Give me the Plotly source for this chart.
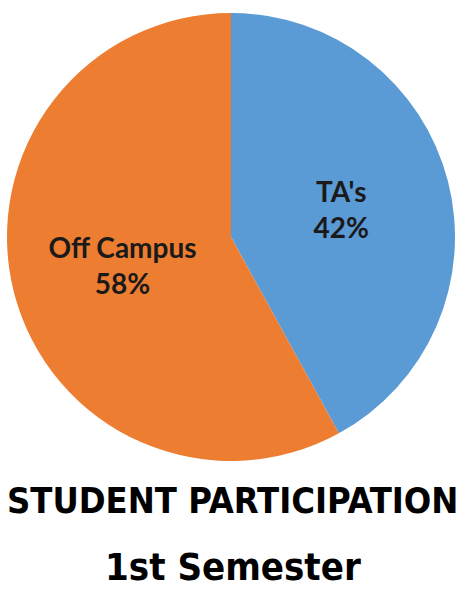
import plotly.graph_objects as go

labels = ["TA's", "Off Campus"]
values = [42, 58]
colors = ["#5B9BD5", "#ED7D31"]
title_line1 = "STUDENT PARTICIPATION"
title_line2 = "1st Semester"

W, H = 465, 601
cx, cy, r = 231, 237, 224

fig = go.Figure(go.Pie(
    labels=labels,
    values=values,
    sort=False,
    direction="clockwise",
    rotation=0,
    marker=dict(colors=colors, line=dict(width=0)),
    texttemplate="%{label}<br>%{percent:.0%}",
    textposition="inside",
    insidetextorientation="horizontal",
    textfont=dict(family="Lato, Open Sans, sans-serif", size=28, color="#1a1a1a", weight="bold"),
    domain=dict(x=[(cx - r) / W, (cx + r) / W], y=[1 - (cy + r) / H, 1 - (cy - r) / H]),
    showlegend=False,
    hoverinfo="skip",
))

tfont = "DejaVu Sans Condensed, DejaVu Sans, sans-serif"
fig.add_annotation(text=f"<b>{title_line1}</b>", x=0.5, y=1 - 500 / H, xref="paper", yref="paper",
                   showarrow=False, xanchor="center", yanchor="middle",
                   font=dict(family=tfont, size=36, color="#000000"))
fig.add_annotation(text=f"<b>{title_line2}</b>", x=0.5, y=1 - 567 / H, xref="paper", yref="paper",
                   showarrow=False, xanchor="center", yanchor="middle",
                   font=dict(family=tfont, size=38, color="#000000"))

fig.update_layout(width=W, height=H, margin=dict(l=0, r=0, t=0, b=0),
                  paper_bgcolor="white", plot_bgcolor="white")
fig.write_html("out.html", config={"displayModeBar": False},
               post_script="document.body.style.margin='0';document.body.style.overflow='hidden';")
